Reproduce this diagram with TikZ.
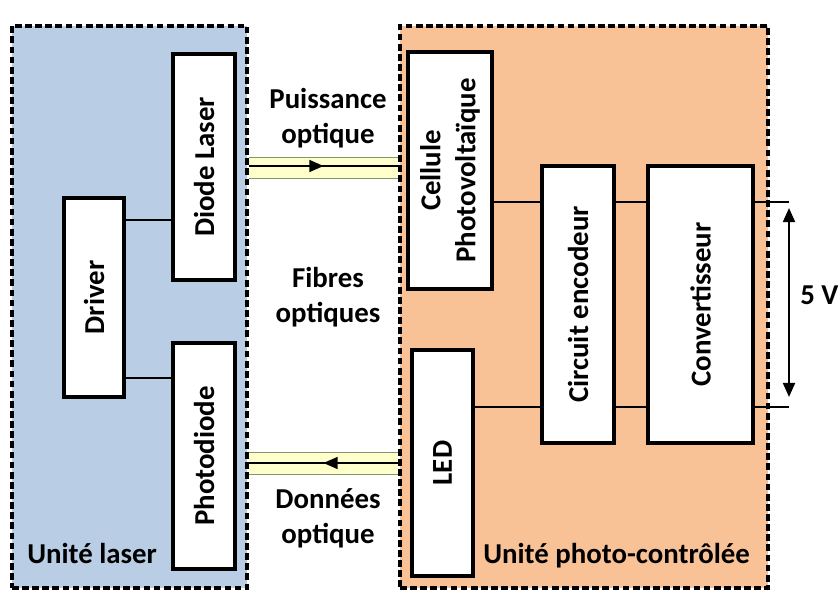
\documentclass[tikz,border=0pt]{standalone}
\usepackage{fontspec}
\setmainfont{Carlito}
\usetikzlibrary{arrows.meta,decorations.markings,backgrounds}
\definecolor{laserBlue}{RGB}{185,205,228}
\definecolor{photoOrange}{RGB}{248,194,150}
\definecolor{fibreYellow}{RGB}{255,255,204}
\definecolor{fibreEdge}{RGB}{130,150,110}
\begin{document}
\begin{tikzpicture}[x=0.025cm,y=-0.025cm,
    unitBox/.style={draw=black,line width=2.3pt,dash pattern=on 4.8pt off 2.4pt,inner sep=0pt,minimum height=14.05cm},
    blockBox/.style={draw=black,fill=white,line width=2.4pt,inner sep=0pt},
    blockText/.style={rotate=90,align=center,inner sep=0pt,font=\fontsize{20.5}{25}\selectfont\bfseries},
    freeText/.style={align=center,inner sep=0pt,font=\fontsize{20.5}{25}\selectfont\bfseries},
    link/.style={line width=1.5pt},
    fibreLine/.style={line width=1pt,postaction={decorate},
        decoration={markings,mark=at position 0.5 with {\arrow{Triangle[length=10pt,width=8.5pt]}}}},
    fibreBorder/.style={draw=fibreEdge,line width=0.7pt},
]
\useasboundingbox (0,0) rectangle (840,591);
\node[unitBox,fill=laserBlue,minimum width=5.875cm] (laserUnit) at (129.5,307) {};
\node[unitBox,fill=photoOrange,minimum width=9.2cm] (photoUnit) at (584,307) {};

\node[blockBox,minimum width=1.55cm,minimum height=5.65cm] (diode) at (204,167) {};
\node[blockBox,minimum width=1.5cm,minimum height=4.975cm] (driver) at (94,297.5) {};
\node[blockBox,minimum width=1.55cm,minimum height=5.65cm] (photodiode) at (204,456) {};
\node[blockBox,minimum width=2.1cm,minimum height=5.925cm] (cellule) at (450,170.5) {};
\node[blockBox,minimum width=1.525cm,minimum height=5.65cm] (led) at (442.5,463) {};
\node[blockBox,minimum width=1.8cm,minimum height=6.925cm] (encodeur) at (578,304.5) {};
\node[blockBox,minimum width=2.625cm,minimum height=6.925cm] (convert) at (700.5,304.5) {};

\node[blockText] at (diode) {Diode Laser};
\node[blockText] at (driver) {Driver};
\node[blockText] at (photodiode) {Photodiode};
\node[blockText] at (cellule) {Cellule\\Photovoltaïque};
\node[blockText] at (led) {LED};
\node[blockText] at (encodeur) {Circuit encodeur};
\node[blockText] at (convert) {Convertisseur};

\draw[link] (driver.east |- 0,220) -- (diode.west |- 0,220);
\draw[link] (driver.east |- 0,378) -- (photodiode.west |- 0,378);
\draw[link] (cellule.east |- 0,202) -- (encodeur.west |- 0,202);
\draw[link] (led.east |- 0,407) -- (encodeur.west |- 0,407);
\draw[link] (encodeur.east |- 0,202) -- (convert.west |- 0,202);
\draw[link] (encodeur.east |- 0,407) -- (convert.west |- 0,407);

\coordinate (outTop) at (789,202);
\coordinate (outBot) at (789,407);
\coordinate (vTop) at (789,208);
\coordinate (vBot) at (789,397);
\draw[link] (convert.east |- outTop) -- (outTop);
\draw[link] (convert.east |- outBot) -- (outBot);
\draw[link,<->,>={Triangle[length=10pt,width=8.5pt]}] (vTop) -- (vBot);

\begin{pgfonlayer}{background}
\fill[fibreYellow] (laserUnit.east |- 0,157) rectangle (photoUnit.west |- 0,178);
\draw[fibreBorder] (laserUnit.east |- 0,157) -- (photoUnit.west |- 0,157);
\draw[fibreBorder] (laserUnit.east |- 0,178) -- (photoUnit.west |- 0,178);
\draw[fibreLine] (laserUnit.east |- 0,166) -- (photoUnit.west |- 0,166);
\fill[fibreYellow] (laserUnit.east |- 0,452) rectangle (photoUnit.west |- 0,474);
\draw[fibreBorder] (laserUnit.east |- 0,452) -- (photoUnit.west |- 0,452);
\draw[fibreBorder] (laserUnit.east |- 0,474) -- (photoUnit.west |- 0,474);
\draw[fibreLine] (photoUnit.west |- 0,463) -- (laserUnit.east |- 0,463);
\end{pgfonlayer}

\node[freeText] (puissance) at (328,118) {Puissance\\optique};
\node[freeText] (fibres) at (328,297) {Fibres\\optiques};
\node[freeText] (donnees) at (328,518) {Données\\optique};
\node[freeText,anchor=base west] (laserName) at (27,563) {Unité laser};
\node[freeText,anchor=base west] (photoName) at (483,563) {Unité photo-contrôlée};
\node[freeText,anchor=base west] (tension) at (800,304) {5 V};
\end{tikzpicture}
\end{document}
